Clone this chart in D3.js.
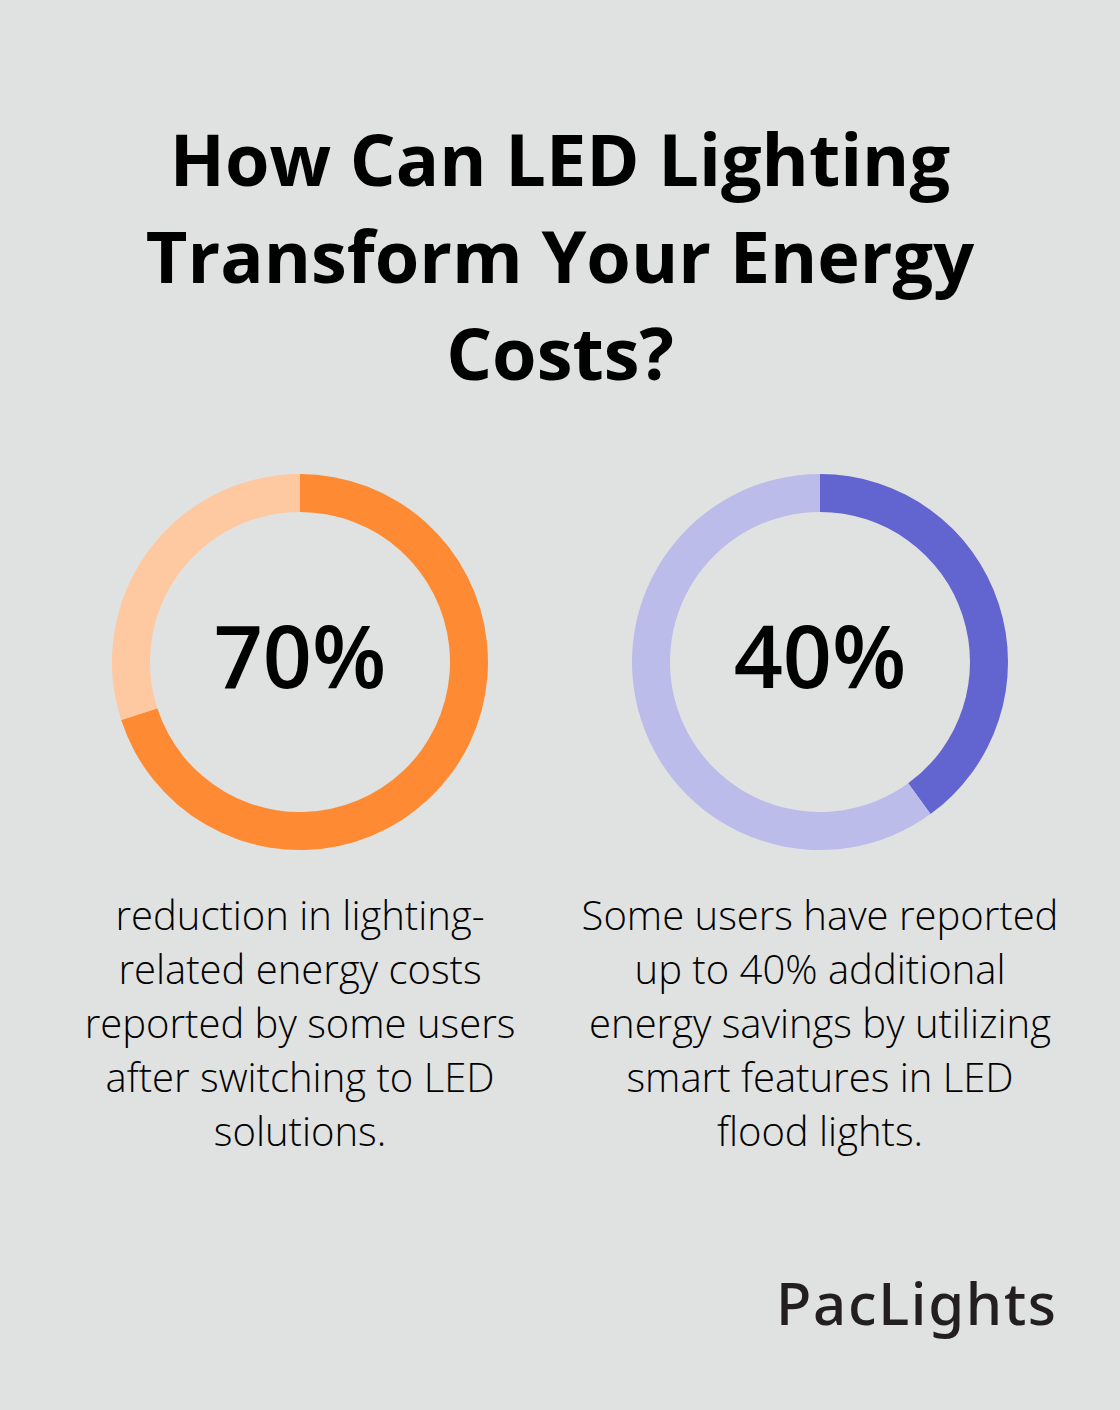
<!DOCTYPE html>
<html>
<head>
<meta charset="utf-8">
<script src="https://cdn.jsdelivr.net/npm/d3@7"></script>
<style>
  html, body { margin: 0; padding: 0; background: #E0E2E1; }
  svg { display: block; }
</style>
</head>
<body>
<svg id="chart" width="1120" height="1410"></svg>
<script>
const titleLines = ["How Can LED Lighting", "Transform Your Energy", "Costs?"];
const categories = ["LED cost reduction", "Smart feature savings"];
const values = [70, 40];
const labels = ["70%", "40%"];
const descriptions = [
  ["reduction in lighting-", "related energy costs", "reported by some users", "after switching to LED", "solutions."],
  ["Some users have reported", "up to 40% additional", "energy savings by utilizing", "smart features in LED", "flood lights."]
];
const mainColors = ["#FE8B34", "#6264D0"];
const restColors = ["#FEC8A0", "#BBBCE9"];
const brand = "PacLights";

const svg = d3.select("#chart");
const W = 1120;

svg.append("rect").attr("width", W).attr("height", 1410).attr("fill", "#E0E2E1");

svg.append("g").selectAll("text").data(titleLines).join("text")
  .attr("x", W / 2)
  .attr("y", (d, i) => 186 + i * 97)
  .attr("text-anchor", "middle")
  .attr("font-family", "'Open Sans', sans-serif")
  .attr("font-weight", 700)
  .attr("font-size", 72)
  .attr("fill", "#000")
  .text(d => d);

const x = d3.scalePoint().domain(categories).range([300, 820]);
const pie = d3.pie().sort(null).value(d => d);
const arc = d3.arc().innerRadius(150).outerRadius(188);

categories.forEach((c, i) => {
  const g = svg.append("g").attr("transform", `translate(${x(c)},662)`);
  const arcs = pie([values[i], 100 - values[i]]);
  g.selectAll("path").data(arcs).join("path")
    .attr("d", arc)
    .attr("fill", (d, j) => j === 0 ? mainColors[i] : restColors[i]);
  g.append("text")
    .attr("y", 26)
    .attr("text-anchor", "middle")
    .attr("font-family", "'Open Sans', sans-serif")
    .attr("font-weight", 600)
    .attr("font-size", 86)
    .attr("fill", "#000")
    .text(labels[i]);
  svg.append("g").selectAll("text").data(descriptions[i]).join("text")
    .attr("x", x(c))
    .attr("y", (d, j) => 930 + j * 54)
    .attr("text-anchor", "middle")
    .attr("font-family", "'Open Sans', sans-serif")
    .attr("font-weight", 300)
    .attr("font-size", 40)
    .attr("fill", "#000")
    .text(d => d);
});

svg.append("text")
  .attr("x", 776)
  .attr("y", 1325)
  .attr("font-family", "'Noto Sans', sans-serif")
  .attr("font-weight", 500)
  .attr("font-size", 58)
  .attr("textLength", 280)
  .attr("lengthAdjust", "spacing")
  .attr("fill", "#231F20")
  .text(brand);
</script>
</body>
</html>
